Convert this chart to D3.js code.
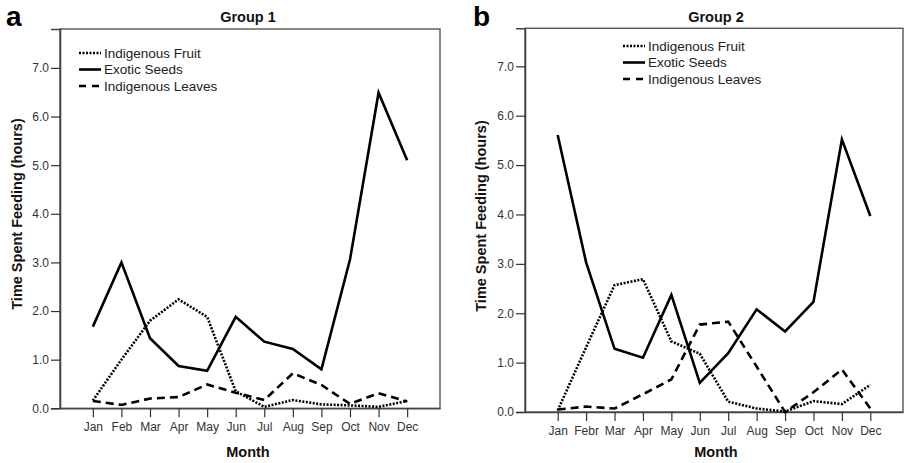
<!DOCTYPE html>
<html><head><meta charset="utf-8">
<script src="https://cdn.jsdelivr.net/npm/d3@7"></script>
<style>
html,body{margin:0;padding:0;background:#fff;}
svg{display:block;font-family:"Liberation Sans",Arial,sans-serif;}
</style></head>
<body>
<svg id="chart" width="906" height="463"></svg>
<script>
const months1 = ["Jan","Feb","Mar","Apr","May","Jun","Jul","Aug","Sep","Oct","Nov","Dec"];
const months2 = ["Jan","Febr","Mar","Apr","May","Jun","Jul","Aug","Sep","Oct","Nov","Dec"];
const yTicks = [0,1,2,3,4,5,6,7];
const seriesNames = ["Indigenous Fruit","Exotic Seeds","Indigenous Leaves"];

// Group 1
const g1Fruit  = [0.16,1.0,1.8,2.24,1.88,0.35,0.03,0.17,0.08,0.06,0.03,0.15];
const g1Seeds  = [1.68,3.0,1.44,0.87,0.77,1.88,1.37,1.22,0.80,3.06,6.49,5.10];
const g1Leaves = [0.15,0.07,0.2,0.23,0.49,0.32,0.17,0.72,0.48,0.09,0.31,0.14];
// Group 2
const g2Fruit  = [0.03,1.31,2.57,2.69,1.43,1.18,0.21,0.07,0.01,0.22,0.16,0.55];
const g2Seeds  = [5.61,3.03,1.28,1.10,2.37,0.59,1.19,2.08,1.63,2.23,5.52,3.97];
const g2Leaves = [0.05,0.11,0.07,0.36,0.66,1.77,1.83,0.92,0.0,0.40,0.86,0.07];

const svg = d3.select("#chart");
const styles = [
  {dash:"2,1.5", w:2.6},
  {dash:null, w:2.6},
  {dash:"8,5", w:2.6}
];
const FONT = "Liberation Sans, Arial, sans-serif";

function panel(cfg){
  const g = svg.append("g");
  const x = d3.scalePoint().domain(cfg.months).range([cfg.x0, cfg.x1]).padding(1.15);
  const y = d3.scaleLinear().domain([0, cfg.ymax]).range([cfg.yb, cfg.yt]);

  // frame
  g.append("rect").attr("x",cfg.x0).attr("y",cfg.yt).attr("width",cfg.x1-cfg.x0).attr("height",cfg.yb-cfg.yt)
    .attr("fill","none").attr("stroke","#555").attr("stroke-width",1.4);

  // y axis
  const ya = g.append("g").attr("transform",`translate(${cfg.x0},0)`)
    .call(d3.axisLeft(y).tickValues(yTicks).tickFormat(d3.format(".1f")).tickSize(9).tickPadding(2));
  ya.select(".domain").attr("stroke","#444").attr("stroke-width",1.6);
  ya.selectAll(".tick line").attr("stroke","#333").attr("stroke-width",1.2);
  ya.selectAll(".tick text").attr("font-size",12).attr("fill","#333").attr("font-family",FONT);

  // x axis
  const xa = g.append("g").attr("transform",`translate(0,${cfg.yb})`)
    .call(d3.axisBottom(x).tickSize(9).tickPadding(5).tickSizeOuter(0));
  xa.select(".domain").attr("stroke","#444").attr("stroke-width",1.6);
  xa.selectAll(".tick line").attr("stroke","#333").attr("stroke-width",1.2);
  xa.selectAll(".tick text").attr("font-size",12).attr("fill","#333").attr("font-family",FONT);

  // lines
  const line = d3.line().x((d,i)=>x(cfg.months[i])).y(d=>y(d));
  cfg.series.forEach((s,k)=>{
    g.append("path").datum(s).attr("d",line).attr("fill","none")
      .attr("stroke","#000").attr("stroke-width",styles[k].w)
      .attr("stroke-dasharray",styles[k].dash).attr("stroke-linejoin","miter");
  });

  // legend
  seriesNames.forEach((n,k)=>{
    const yy = cfg.legY + k*16.5;
    g.append("line").attr("x1",cfg.legX).attr("x2",cfg.legX+22).attr("y1",yy).attr("y2",yy)
      .attr("stroke","#000").attr("stroke-width",2.6)
      .attr("stroke-dasharray", k===2 ? "7,6" : styles[k].dash);
    g.append("text").attr("x",cfg.legX+25).attr("y",yy).attr("dy","0.35em")
      .attr("font-size",13.5).attr("fill","#222").text(n);
  });

  // titles
  g.append("text").attr("x",cfg.titleX).attr("y",22).attr("text-anchor","middle")
    .attr("font-size",14.5).attr("font-weight","bold").attr("fill","#111").text(cfg.title);
  g.append("text").attr("x",cfg.letterX).attr("y",26).attr("font-size",28)
    .attr("font-weight","bold").attr("fill","#000").text(cfg.letter);
  g.append("text").attr("x",cfg.titleX).attr("y",457).attr("text-anchor","middle")
    .attr("font-size",14.5).attr("font-weight","bold").attr("fill","#111").text("Month");
  g.append("text").attr("transform",`translate(${cfg.ylabX},${cfg.ylabY}) rotate(-90)`)
    .attr("text-anchor","middle").attr("dy","0.35em")
    .attr("font-size",14.5).attr("font-weight","bold").attr("fill","#111").text("Time Spent Feeding (hours)");
}

panel({months:months1, x0:60, x1:440, yt:29, yb:408.3, ymax:7.8,
  series:[g1Fruit,g1Seeds,g1Leaves], legX:79, legY:53,
  title:"Group 1", titleX:248, letter:"a", letterX:6, ylabX:16.5, ylabY:214});
panel({months:months2, x0:525, x1:903, yt:28.3, yb:412, ymax:7.77,
  series:[g2Fruit,g2Seeds,g2Leaves], legX:623, legY:46,
  title:"Group 2", titleX:716, letter:"b", letterX:473, ylabX:481, ylabY:216});
</script>
</body></html>
